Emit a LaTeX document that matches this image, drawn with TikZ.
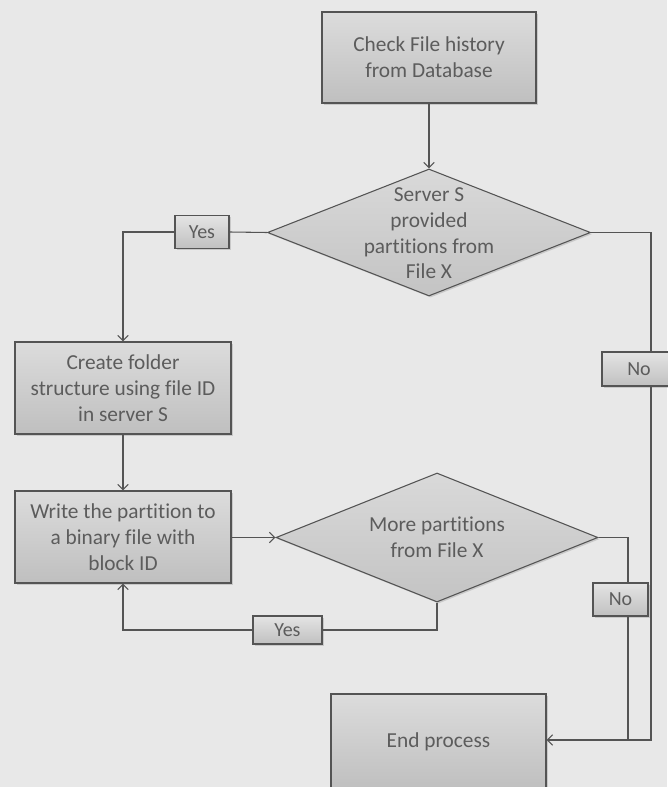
\documentclass[tikz,border=0pt]{standalone}
\usepackage{fontspec}
\setmainfont{Carlito}[Ligatures={NoCommon}]
\usetikzlibrary{arrows.meta,shapes.geometric,shadows}

\definecolor{bg}{HTML}{E8E8E8}
\definecolor{edge}{HTML}{545454}
\definecolor{ink}{HTML}{5C5C5C}
\definecolor{filltop}{HTML}{DCDCDC}
\definecolor{fillbot}{HTML}{BFBFBF}
\definecolor{tagtop}{HTML}{E4E4E4}
\definecolor{tagbot}{HTML}{C0C0C0}

\tikzset{
  flow/.style={draw=edge, line width=0.8pt},
  arr/.style={flow, -{Straight Barb[length=4pt,width=8pt]}},
  shade/.style={drop shadow={opacity=0.3, shadow xshift=1.2pt, shadow yshift=-1.2pt}},
  procbox/.style={rectangle, draw=edge, line width=0.8pt, top color=filltop,
    bottom color=fillbot, text=ink, align=center, inner sep=0pt,
    font=\fontsize{16}{19.3}\selectfont, shade},
  decision/.style={diamond, draw=edge, line width=0.8pt, top color=filltop!90!fillbot,
    bottom color=fillbot!85!filltop, inner sep=0pt, shade},
  decisiontext/.style={text=ink, align=center, inner sep=0pt,
    font=\fontsize{16}{19.3}\selectfont},
  tag/.style={rectangle, draw=edge, line width=0.8pt, top color=tagtop,
    bottom color=tagbot, text=ink, inner sep=0pt,
    font=\fontsize{15}{18}\selectfont, shade}
}

\begin{document}
\begin{tikzpicture}[x=0.75pt,y=-0.75pt]
  \useasboundingbox (0,0) rectangle (667,787);
  \fill[bg] (0,0) rectangle (667,787);

  % process boxes
  \node[procbox, minimum width=160.5pt, minimum height=68.25pt] (check) at (429,57.5)
    {Check File history\\from Database};
  \node[procbox, minimum width=162pt, minimum height=69pt] (create) at (123,388)
    {Create folder\\structure using file ID\\in server S};
  \node[procbox, minimum width=162pt, minimum height=69pt] (write) at (123,537)
    {Write the partition to\\a binary file with\\block ID};
  \node[procbox, minimum width=161.25pt, minimum height=72pt] (end) at (438.5,742)
    {End process};

  % decisions
  \node[decision, minimum width=242.25pt, minimum height=95.25pt] (d1) at (429,232.5) {};
  \node[decisiontext] (d1txt) at (429,233.5)
    {Server S\\provided\\partitions from\\File X};
  \node[decision, minimum width=241.5pt, minimum height=96.75pt] (d2) at (437,537.5) {};
  \node[decisiontext] (d2txt) at (437,537.5)
    {More partitions\\from File X};

  % branch labels
  \node[tag, minimum width=40.5pt, minimum height=24.75pt] (yes1) at (202,232) {Yes};
  \node[tag, minimum width=55.5pt, minimum height=25.5pt] (no1) at (639,369) {No};
  \node[tag, minimum width=51.75pt, minimum height=21pt] (yes2) at (287.5,630) {Yes};
  \node[tag, minimum width=41.25pt, minimum height=24.75pt] (no2) at (620.5,599.5) {No};

  % routing corners
  \coordinate (r1) at (651,232.5);
  \coordinate (r1b) at (651,740);
  \coordinate (r2) at (628,537.5);
  \coordinate (r2b) at (628,740);
  \coordinate (d2low) at (437,630);
  \coordinate (entry) at (end.east |- r1b);

  % connectors
  \draw[arr] (check) -- (d1);
  \draw[flow] (d1.west) -- (yes1.east);
  \draw[arr] (yes1.west) -| (create.north);
  \draw[arr] (create) -- (write);
  \draw[arr] (write.east |- d2.west) -- (d2.west);
  \draw[flow] (d2.south) -- (d2low) -- (yes2.east);
  \draw[arr] (yes2.west) -| (write.south);
  \draw[flow] (d1.east) -- (r1) -- (no1.north -| r1);
  \draw[flow] (no1.south -| r1) -- (r1b) -- (r2b);
  \draw[flow] (d2.east) -- (r2) -- (no2.north -| r2);
  \draw[arr] (no2.south -| r2) -- (r2b) -- (entry);
\end{tikzpicture}
\end{document}
